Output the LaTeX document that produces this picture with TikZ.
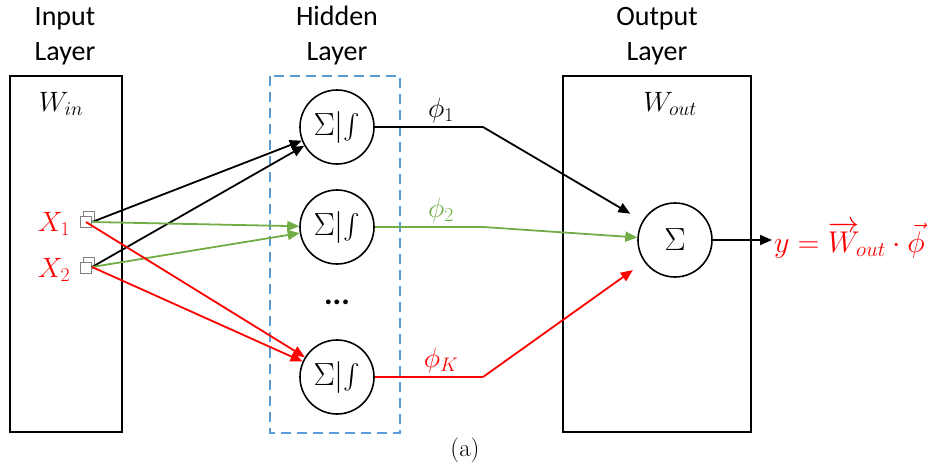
\RequirePackage{fix-cm}
\documentclass[tikz,border=0pt]{standalone}
\usepackage{exscale}
\usepackage{fontspec}
\setmainfont{Carlito}
\newfontfamily\lmfont{Latin Modern Roman}
\usetikzlibrary{arrows.meta}
\definecolor{myred}{HTML}{FF0000}
\definecolor{mygreen}{HTML}{70AD47}
\definecolor{myblue}{HTML}{5B9BD5}
\begin{document}
\begin{tikzpicture}[x=1pt,y=1pt,
  layerbox/.style={draw=black,line width=1.8pt},
  neuron/.style={circle,draw=black,line width=1.6pt,minimum size=74pt,inner sep=0pt,font=\fontsize{32}{36}\selectfont},
  title/.style={align=center,font=\fontsize{28}{35}\selectfont},
  mlabel/.style={font=\fontsize{28}{32}\selectfont},
  conn/.style={line width=1.8pt},
  arr/.style={conn,-{Triangle[length=12pt,width=10pt]}},
  port/.style={draw=gray,line width=1.3pt,fill=white,minimum size=10.5pt,inner sep=0pt}]
\useasboundingbox (0,0) rectangle (939,-469);
% layer boxes
\draw[layerbox] (10,-76) rectangle (122,-432);
\draw[myblue,line width=1.8pt,dash pattern=on 10pt off 6pt] (270,-76) rectangle (400,-433);
\draw[layerbox] (563,-76) rectangle (751,-432);
% titles
\node[title] (tin) at (65,-36) {Input\\Layer};
\node[title] (thid) at (337,-36) {Hidden\\Layer};
\node[title] (tout) at (657,-36) {Output\\Layer};
\node[mlabel] (win) at (61,-104) {$W_{in}$};
\node[mlabel] (wout) at (670,-104) {$W_{out}$};
% inputs
\node[mlabel,text=myred] (lx1) at (54,-224) {$X_1$};
\node[mlabel,text=myred] (lx2) at (54,-270) {$X_2$};
\node[port] (p1b) at (89,-217) {};
\node[port] (p1) at (86,-222) {};
\node[port] (p2b) at (89,-263) {};
\node[port] (p2) at (86,-268) {};
\coordinate (x1) at (92,-222);
\coordinate (x2) at (92,-267);
% hidden neurons
\node[neuron] (h1) at (337,-127) {$\Sigma|\!\int$};
\node[neuron] (h2) at (337,-227) {$\Sigma|\!\int$};
\node[neuron] (hk) at (337,-377) {$\Sigma|\!\int$};
\node[font=\fontsize{32}{36}\selectfont\bfseries] (dots) at (337,-302) {...};
% output neuron
\node[neuron] (sig) at (675,-240) {$\Sigma$};
% input connectors
\draw[arr,black] (x1) -- (h1);
\draw[arr,black] (x2) -- (h1);
\draw[arr,mygreen] (x1) -- (h2);
\draw[arr,mygreen] (x2) -- (h2);
\draw[arr,myred] (p1.center) -- (hk);
\draw[arr,myred] (x2) -- (hk);
% hidden outputs
\coordinate (b1) at (483,-127);
\coordinate (b2) at (483,-227);
\coordinate (bk) at (483,-377);
\draw[conn,black] (h1) -- (b1);
\draw[conn,mygreen] (h2) -- (b2);
\draw[conn,myred] (hk) -- (bk);
\draw[arr,black,shorten >=14pt] (b1) -- (sig);
\draw[arr,mygreen] (b2) -- (sig);
\draw[arr,myred,shorten >=14pt] (bk) -- (sig);
\node[mlabel] (phi1) at (441,-110) {$\phi_1$};
\node[mlabel,text=mygreen] (phi2) at (441,-210) {$\phi_2$};
\node[mlabel,text=myred] (phik) at (441,-360) {$\phi_K$};
% output
\node[text=myred,anchor=west,font=\fontsize{30}{34}\selectfont,inner sep=2pt] (res) at (772,-240) {$y=\overrightarrow{W}_{\!out}\cdot\vec{\phi}$};
\draw[arr,black] (sig.east) -- (sig.east -| res.west);
\node[font=\fontsize{25}{28}\selectfont] (cap) at (465,-450) {\lmfont (a)};
\end{tikzpicture}
\end{document}
